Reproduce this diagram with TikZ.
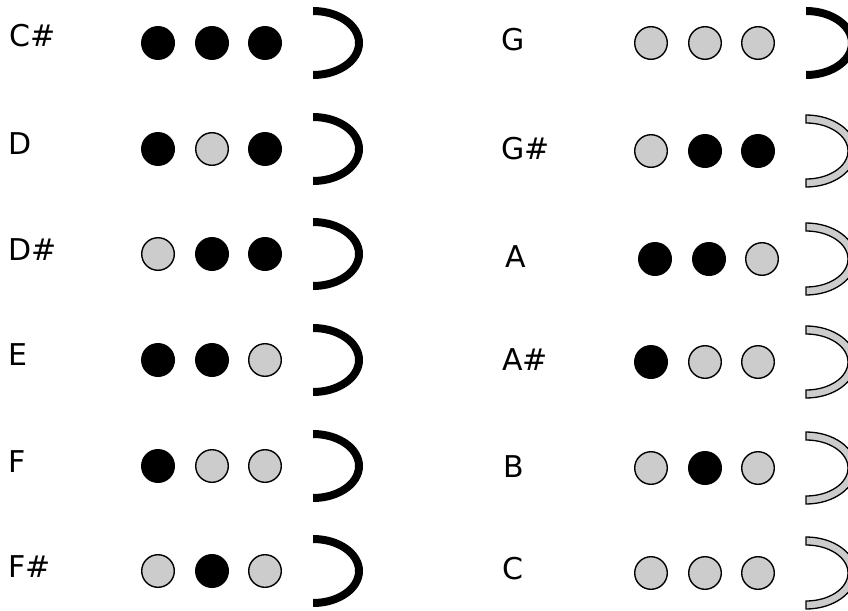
\documentclass[tikz,border=0pt]{standalone}
\usepackage{fontspec}
\setmainfont{DejaVu Sans}
\usetikzlibrary{positioning}
\definecolor{holec}{HTML}{CCCCCC}

\tikzset{
  lip/.pic={
    \path[pic actions] (0,-36) arc[start angle=-90, end angle=90, x radius=50, y radius=36]
      -- (0,28) arc[start angle=90, end angle=-90, x radius=42, y radius=28] -- cycle;
  }
}

\begin{document}
\begin{tikzpicture}[
  x=1pt, y=-1pt,
  note/.style={anchor=west, inner sep=0pt, font=\fontsize{30}{30}\selectfont,
    text height=22pt, text depth=0pt},
  shut/.style={circle, fill=black, minimum size=34pt, inner sep=0pt},
  free/.style={circle, draw=black, line width=1.4pt, fill=holec, minimum size=32.6pt, inner sep=0pt},
  liptight/.style={fill=black},
  liploose/.style={fill=holec, draw=black, line width=1.3pt}
]
  \useasboundingbox (0,0) rectangle (848,610);
  \clip (0,0) rectangle (848,610);

  % left column
  \foreach \ty/\cy/\lx/\tone/\ha/\hb/\hc [count=\i] in {
      36/43/9/C\#/shut/shut/shut,
      143/149/8/D/shut/free/shut,
      249/254/8/D\#/free/shut/shut,
      354/360/8/E/shut/shut/free,
      461/466/8/F/shut/free/free,
      566/571/8/F\#/free/shut/free} {
    \node[note] (tone-\i) at (\lx,\ty) {\tone};
    \node[\ha] (hole-\i-a) at (158,\cy) {};
    \node[\hb] (hole-\i-b) at (212,\cy) {};
    \node[\hc] (hole-\i-c) at (265,\cy) {};
    \pic[liptight] at (313,\cy) {lip};
  }

  % right column
  \foreach \ty/\cy/\lx/\dx/\tone/\ha/\hb/\hc/\lipst [count=\i] in {
      40/43/501/0/G/free/free/free/liptight,
      148/151/501/0/G\#/free/shut/shut/liploose,
      256/259/505/4/A/shut/shut/free/liploose,
      359/362/502/0/A\#/shut/free/free/liploose,
      466/468/503/0/B/free/shut/free/liploose,
      568/573/502/0/C/free/free/free/liploose} {
    \node[note] (tone-r\i) at (\lx,\ty) {\tone};
    \node[\ha] (hole-r\i-a) at (651+\dx,\cy) {};
    \node[\hb] (hole-r\i-b) at (705+\dx,\cy) {};
    \node[\hc] (hole-r\i-c) at (758+\dx,\cy) {};
    \pic[\lipst] at (806,\cy) {lip};
  }
\end{tikzpicture}
\end{document}
